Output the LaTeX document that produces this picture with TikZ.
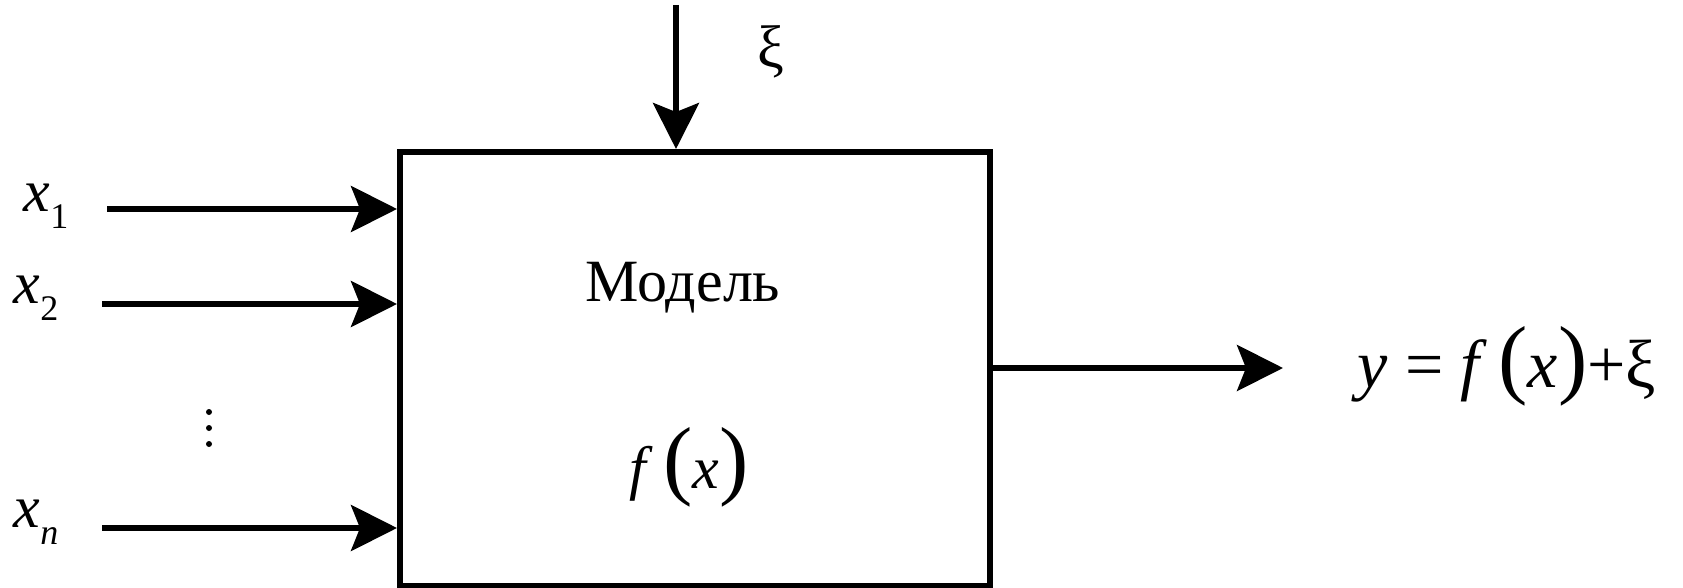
\documentclass[tikz,border=0pt]{standalone}
\usepackage{fontspec}
\setmainfont{Liberation Serif}
\usetikzlibrary{arrows.meta}
\tikzset{
  arr/.style={line width=5.5pt,-{Stealth[length=46pt,width=46pt,inset=9pt]}},
  blk/.style={draw,line width=6pt,rectangle,minimum width=590pt,minimum height=434pt,inner sep=0pt},
  lbl/.style={inner sep=0pt,font=\fontsize{60}{72}\selectfont},
  big/.style={inner sep=0pt,font=\fontsize{68}{80}\selectfont},
  dot/.style={fill,circle,inner sep=0pt,minimum size=6pt}
}
\newcommand{\bigpar}[1]{{\fontsize{88}{88}\selectfont #1}}
\newcommand{\subs}[1]{\raisebox{-0.28em}{\fontsize{36}{36}\selectfont #1}}
\begin{document}
\begin{tikzpicture}[x=1pt,y=-1pt]
\useasboundingbox (0,0) rectangle (1683,588);
\fill[white] (0,0) rectangle (1683,588);
\node[blk] (box) at (695,369) {};
\node[lbl] (model) at (683,288) {Модель};
\node[lbl] (fx) at (689,467) {\textit{f}\,\bigpar{(}\textit{x}\bigpar{)}};
% inputs
\coordinate (s1) at (107,209);
\coordinate (s2) at (102,304);
\coordinate (sn) at (102,528);
\draw[arr] (s1) -- (s1 -| box.west);
\draw[arr] (s2) -- (s2 -| box.west);
\draw[arr] (sn) -- (sn -| box.west);
\node[lbl] (x1) at (46,206) {\textit{x}\subs{1}};
\node[lbl] (x2) at (36,298) {\textit{x}\subs{2}};
\node[lbl] (xn) at (36,522) {\textit{x}\subs{\textit{n}}};
\node[dot] (d1) at (209,412) {};
\node[dot] (d2) at (209,428) {};
\node[dot] (d3) at (209,444) {};
% noise
\coordinate (xitop) at (676,5);
\draw[arr] (xitop) -- (xitop |- box.north);
\node[lbl] (xi) at (771,52) {ξ};
% output
\coordinate (oend) at (1283,368);
\draw[arr] (oend -| box.east) -- (oend);
\node[big] (out) at (1507,366) {\textit{y} = \textit{f}\,\bigpar{(}\textit{x}\bigpar{)}+ξ};
\end{tikzpicture}
\end{document}
